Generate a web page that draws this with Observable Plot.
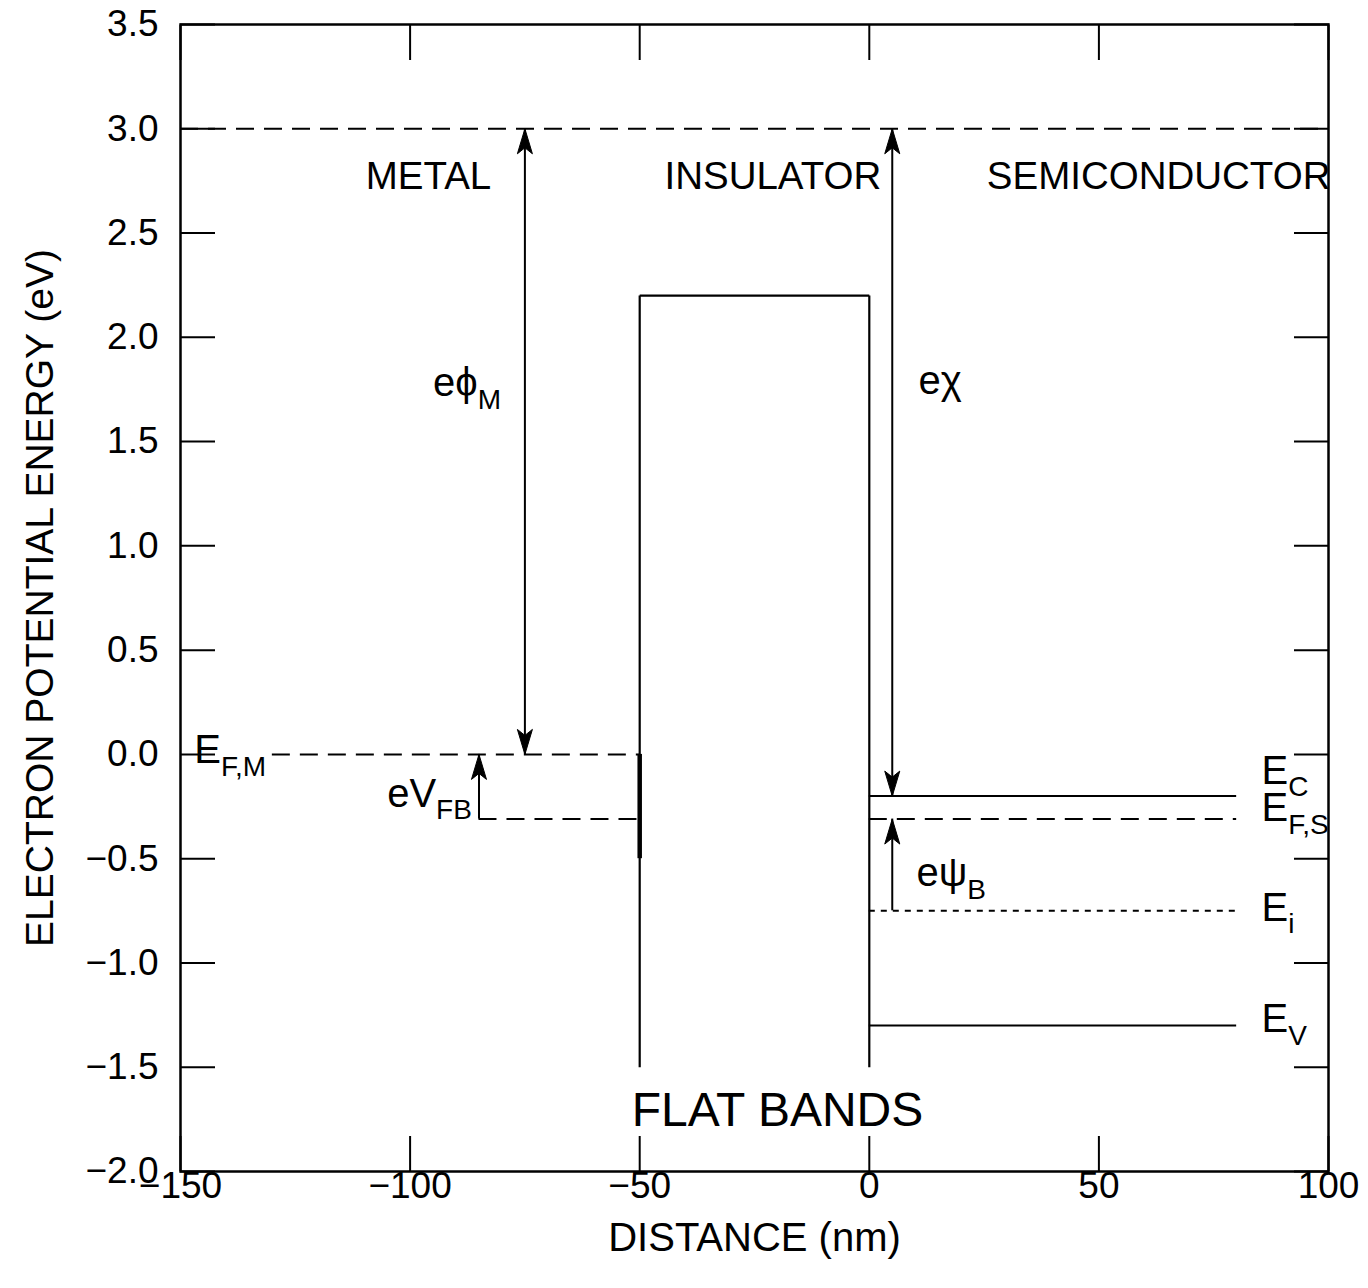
<!DOCTYPE html>
<html>
<head>
<meta charset="utf-8">
<script src="https://cdn.jsdelivr.net/npm/d3@7"></script>
<script src="https://cdn.jsdelivr.net/npm/@observablehq/plot@0.6"></script>
<style>
  html, body { margin: 0; padding: 0; background: white; }
</style>
</head>
<body>
<div id="chart"></div>
<script>
// ---- data ----
const xTicks = [-150, -100, -50, 0, 50, 100];
const xTickLabels = ["\u2212150", "\u2212100", "\u221250", "0", "50", "100"];
const yTicks = [-2.0, -1.5, -1.0, -0.5, 0.0, 0.5, 1.0, 1.5, 2.0, 2.5, 3.0, 3.5];
const yTickLabels = ["\u22122.0", "\u22121.5", "\u22121.0", "\u22120.5", "0.0", "0.5", "1.0", "1.5", "2.0", "2.5", "3.0", "3.5"];

// vacuum level
const vacuumLevel = 3.0;
// insulator barrier
const insulatorLeft = -50, insulatorRight = 0, insulatorTop = 2.2, insulatorBottom = -1.5;
// metal boundary (thicker part)
const metalEdgeTop = 0.0, metalEdgeBottom = -0.5;

// solid band edges (semiconductor)
const solidNames = ["E_C", "E_V"];
const solidY = [-0.2, -1.3];
const solidX1 = [0, 0];
const solidX2 = [80, 80];

// dashed levels
const dashedNames = ["E_F,M", "metal shifted", "E_F,S"];
const dashedY = [0.0, -0.31, -0.31];
const dashedX1 = [-130, -85, 0];
const dashedX2 = [-50, -50, 80];

// dotted level
const dottedNames = ["E_i"];
const dottedY = [-0.75];
const dottedX1 = [0];
const dottedX2 = [80];

// arrows
const arrowNames = ["e\u03D5_M", "e\u03C7", "e\u03C8_B", "eV_FB"];
const arrowX = [-75, 5, 5, -85];
const arrowFrom = [0.0, -0.2, -0.75, -0.31];
const arrowTo = [3.0, 3.0, -0.31, 0.0];
const arrowBoth = [true, true, false, false];

// text labels
const labelTexts = ["E_F,M", "eV_FB", "e\u03D5_M", "e\u03C7", "e\u03C8_B", "E_C", "E_F,S", "E_i", "E_V"];
const labelX = [-147, -105, -95, 10.7, 10.3, 85.4, 85.4, 85.4, 85.4];
const labelY = [0.02, -0.19, 1.78, 1.79, -0.57, -0.08, -0.26, -0.735, -1.27];

const regionNames = ["METAL", "INSULATOR", "SEMICONDUCTOR"];
const regionX = [-96, -21, 63];
const regionY = [2.77, 2.77, 2.77];

const titleText = "FLAT BANDS";
const titleX = -20, titleY = -1.71;

// ---- derived tables ----
const insulatorLines = [
  {x1: insulatorLeft, y1: insulatorBottom, x2: insulatorLeft, y2: insulatorTop},
  {x1: insulatorLeft, y1: insulatorTop, x2: insulatorRight, y2: insulatorTop},
  {x1: insulatorRight, y1: insulatorTop, x2: insulatorRight, y2: insulatorBottom}
];
const solid = solidNames.map((n, i) => ({name: n, y: solidY[i], x1: solidX1[i], x2: solidX2[i]}));
const dashed = dashedNames.map((n, i) => ({name: n, y: dashedY[i], x1: dashedX1[i], x2: dashedX2[i]}));
const dotted = dottedNames.map((n, i) => ({name: n, y: dottedY[i], x1: dottedX1[i], x2: dottedX2[i]}));
const arrows = arrowNames.map((n, i) => ({name: n, x: arrowX[i], from: arrowFrom[i], to: arrowTo[i], both: arrowBoth[i]}));
const headsUp = arrows.map(a => ({x: a.x, y: a.to}));
const headsDown = arrows.filter(a => a.both).map(a => ({x: a.x, y: a.from}));
const labels = labelTexts.map((t, i) => ({text: t, x: labelX[i], y: labelY[i]}));
const regions = regionNames.map((t, i) => ({text: t, x: regionX[i], y: regionY[i]}));

// custom arrowhead symbols (tip at origin)
const headUp = {draw(ctx) { ctx.moveTo(0, 0); ctx.lineTo(7.5, 25); ctx.lineTo(0, 19); ctx.lineTo(-7.5, 25); ctx.closePath(); }};
const headDown = {draw(ctx) { ctx.moveTo(0, 0); ctx.lineTo(7.5, -25); ctx.lineTo(0, -19); ctx.lineTo(-7.5, -25); ctx.closePath(); }};

const fmtX = d => xTickLabels[xTicks.indexOf(d)];
const fmtY = d => yTickLabels[yTicks.findIndex(v => Math.abs(v - d) < 1e-9)];

const chart = Plot.plot({
  width: 1368,
  height: 1288,
  marginLeft: 180,
  marginRight: 40,
  marginTop: 24,
  marginBottom: 117,
  x: {domain: [-150, 100]},
  y: {domain: [-2, 3.5]},
  style: {fontFamily: "'Liberation Sans', Arial, Helvetica, sans-serif", background: "white", color: "black"},
  marks: [
    // tick marks (inward) on four sides
    Plot.axisX(xTicks, {anchor: "bottom", tickSize: -35, tickFormat: () => "", strokeWidth: 2, label: null}),
    Plot.axisX(xTicks, {anchor: "top", tickSize: -35, tickFormat: () => "", strokeWidth: 2, label: null}),
    Plot.axisY(yTicks, {anchor: "left", tickSize: -35, tickFormat: () => "", strokeWidth: 2, label: null}),
    Plot.axisY(yTicks, {anchor: "right", tickSize: -35, tickFormat: () => "", strokeWidth: 2, label: null}),
    // tick labels
    Plot.axisX(xTicks, {anchor: "bottom", tickSize: 0, tickPadding: 0, tickFormat: fmtX, fontSize: 37, label: null}),
    Plot.axisY(yTicks, {anchor: "left", tickSize: 0, tickPadding: 22, tickFormat: fmtY, fontSize: 37, label: null}),
    // axis titles
    Plot.text(["DISTANCE (nm)"], {frameAnchor: "bottom", dy: 67, fontSize: 40, textAnchor: "middle", lineAnchor: "middle", text: d => d}),
    Plot.text(["ELECTRON POTENTIAL ENERGY (eV)"], {frameAnchor: "left", dx: -140, rotate: -90, fontSize: 39, textAnchor: "middle", lineAnchor: "middle", text: d => d}),

    // vacuum level
    Plot.ruleY([vacuumLevel], {strokeWidth: 2, strokeDasharray: "18,10"}),
    // insulator
    Plot.link(insulatorLines, {x1: "x1", y1: "y1", x2: "x2", y2: "y2", strokeWidth: 2.2}),
    Plot.ruleX([insulatorLeft], {y1: metalEdgeTop, y2: metalEdgeBottom, strokeWidth: 4.5}),
    // levels
    Plot.ruleY(solid, {y: "y", x1: "x1", x2: "x2", strokeWidth: 2}),
    Plot.ruleY(dashed, {y: "y", x1: "x1", x2: "x2", strokeWidth: 2, strokeDasharray: "18,10"}),
    Plot.ruleY(dotted, {y: "y", x1: "x1", x2: "x2", strokeWidth: 2, strokeDasharray: "6,6"}),
    // arrows
    Plot.ruleX(arrows, {x: "x", y1: "from", y2: "to", strokeWidth: 2}),
    Plot.dot(headsUp, {x: "x", y: "y", symbol: headUp, fill: "black", stroke: "black", strokeWidth: 1}),
    Plot.dot(headsDown, {x: "x", y: "y", symbol: headDown, fill: "black", stroke: "black", strokeWidth: 1}),

    // labels
    Plot.text(labels, {x: "x", y: "y", text: "text", textAnchor: "start", lineAnchor: "middle", fontSize: 40}),
    Plot.text(regions, {x: "x", y: "y", text: "text", textAnchor: "middle", lineAnchor: "middle", fontSize: 38.5}),
    Plot.text([titleText], {x: () => titleX, y: () => titleY, text: d => d, textAnchor: "middle", lineAnchor: "middle", fontSize: 48}),

    Plot.frame({strokeWidth: 2.5})
  ]
});

// subscripts: "main_sub" -> main + <tspan> sub
chart.querySelectorAll("text").forEach(t => {
  if (t.children.length) return;
  const s = t.textContent;
  const i = s.indexOf("_");
  if (i < 0) return;
  t.textContent = s.slice(0, i);
  const ts = document.createElementNS("http://www.w3.org/2000/svg", "tspan");
  ts.setAttribute("font-size", "28");
  ts.setAttribute("dy", "0.45em");
  ts.textContent = s.slice(i + 1);
  t.appendChild(ts);
});

document.getElementById("chart").appendChild(chart);
</script>
</body>
</html>
